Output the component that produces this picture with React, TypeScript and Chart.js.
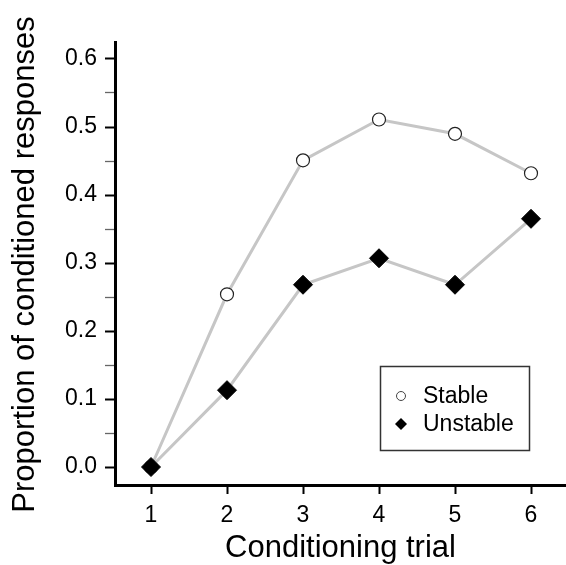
import React, { useEffect, useRef } from 'react';
import { Chart, registerables } from 'chart.js';

Chart.register(...registerables);

const trials = [1, 2, 3, 4, 5, 6];
const stableValues = [0, 0.254, 0.451, 0.511, 0.49, 0.432];
const unstableValues = [0, 0.113, 0.268, 0.307, 0.268, 0.365];
const yTickValues = [0, 0.05, 0.1, 0.15, 0.2, 0.25, 0.3, 0.35, 0.4, 0.45, 0.5, 0.55, 0.6];
const xTitle = 'Conditioning trial';
const yTitle = 'Proportion of conditioned responses';
const seriesNames = ['Stable', 'Unstable'];

const FONT = '"Liberation Sans", Arial, sans-serif';

const isMajor = (v: number) => Math.round(v * 100) % 10 === 0;

const overlayPlugin = {
  id: 'overlay',
  afterDraw(chart: any) {
    const { ctx, chartArea } = chart;
    const ca = chartArea;
    ctx.save();
    ctx.fillStyle = '#000';
    ctx.font = `31px ${FONT}`;
    ctx.textAlign = 'center';
    ctx.textBaseline = 'alphabetic';
    ctx.fillText(xTitle, (ca.left + ca.right) / 2, ca.bottom + 72);
    ctx.save();
    ctx.translate(ca.left - 81, (ca.top + ca.bottom) / 2 + 1);
    ctx.rotate(-Math.PI / 2);
    ctx.fillText(yTitle, 0, 0);
    ctx.restore();

    const bx = ca.right - 186;
    const by = ca.bottom - 119;
    const bw = 149;
    const bh = 84;
    ctx.lineWidth = 1.5;
    ctx.strokeStyle = '#333';
    ctx.strokeRect(bx + 0.5, by + 0.5, bw, bh);

    const mx = bx + 21;
    const y1 = by + 30;
    const y2 = by + 58;
    ctx.beginPath();
    ctx.arc(mx, y1, 4.5, 0, Math.PI * 2);
    ctx.fillStyle = '#fff';
    ctx.fill();
    ctx.lineWidth = 1;
    ctx.strokeStyle = '#444';
    ctx.stroke();
    ctx.beginPath();
    ctx.moveTo(mx - 6, y2);
    ctx.lineTo(mx, y2 - 6);
    ctx.lineTo(mx + 6, y2);
    ctx.lineTo(mx, y2 + 6);
    ctx.closePath();
    ctx.fillStyle = '#000';
    ctx.fill();

    ctx.font = `23px ${FONT}`;
    ctx.textAlign = 'left';
    ctx.textBaseline = 'middle';
    ctx.fillStyle = '#000';
    ctx.fillText(seriesNames[0], bx + 43, y1 + 1);
    ctx.fillText(seriesNames[1], bx + 43, y2 + 1);
    ctx.restore();
  },
};

export default function App() {
  const ref = useRef<HTMLCanvasElement | null>(null);

  useEffect(() => {
    if (!ref.current) return;
    const chart = new Chart(ref.current, {
      type: 'line',
      data: {
        datasets: [
          {
            label: seriesNames[0],
            data: trials.map((t, i) => ({ x: t, y: stableValues[i] })),
            borderColor: '#c6c6c6',
            borderWidth: 3,
            pointStyle: 'circle',
            pointRadius: 6.5,
            pointBackgroundColor: '#fff',
            pointBorderColor: '#222',
            pointBorderWidth: 1.2,
            order: 1,
          },
          {
            label: seriesNames[1],
            data: trials.map((t, i) => ({ x: t, y: unstableValues[i] })),
            borderColor: '#c6c6c6',
            borderWidth: 3,
            pointStyle: 'rectRot',
            pointRadius: 9.5,
            pointBackgroundColor: '#000',
            pointBorderColor: '#000',
            pointBorderWidth: 1,
            order: 0,
          },
        ],
      },
      options: {
        animation: false,
        responsive: false,
        devicePixelRatio: 1,
        layout: { autoPadding: false, padding: { top: 42, right: 0, left: 0, bottom: 0 } },
        plugins: {
          legend: { display: false },
          tooltip: { enabled: false },
        },
        scales: {
          x: {
            type: 'linear',
            min: 1 - 36 / 76,
            max: 6 + 35 / 76,
            afterBuildTicks: (scale: any) => {
              scale.ticks = trials.map((v) => ({ value: v }));
            },
            afterFit: (scale: any) => {
              scale.height = 80;
              scale.paddingLeft = 0;
              scale.paddingRight = 0;
            },
            ticks: {
              autoSkip: false,
              maxRotation: 0,
              padding: 8,
              color: '#000',
              font: { family: FONT, size: 23 },
              callback: (v: any) => String(v),
            },
            grid: {
              display: true,
              drawOnChartArea: false,
              drawTicks: true,
              tickLength: 9,
              tickColor: '#000',
              tickWidth: 2,
            },
            border: { display: true, color: '#000', width: 3 },
          },
          y: {
            type: 'linear',
            min: (-18 * 0.6) / 408,
            max: 0.6 + (17 * 0.6) / 408,
            afterBuildTicks: (scale: any) => {
              scale.ticks = yTickValues.map((v) => ({ value: v }));
            },
            afterFit: (scale: any) => {
              scale.width = 115;
              scale.paddingTop = 0;
              scale.paddingBottom = 0;
            },
            ticks: {
              autoSkip: false,
              padding: 8,
              color: '#000',
              font: { family: FONT, size: 23 },
              callback: (v: any) => (isMajor(v) ? Number(v).toFixed(1) : ''),
            },
            grid: {
              display: true,
              drawOnChartArea: false,
              drawTicks: true,
              tickLength: 10,
              tickColor: (c: any) => (isMajor(c.tick.value) ? '#000' : '#666'),
              tickWidth: (c: any) => (isMajor(c.tick.value) ? 2 : 1.3),
            },
            border: { display: true, color: '#000', width: 3 },
          },
        },
      },
      plugins: [overlayPlugin],
    });
    return () => chart.destroy();
  }, []);

  return (
    <div style={{ position: 'fixed', left: 0, top: 0, width: 566, height: 565, background: '#fff' }}>
      <canvas ref={ref} width={566} height={565} style={{ width: 566, height: 565, display: 'block' }} />
    </div>
  );
}
